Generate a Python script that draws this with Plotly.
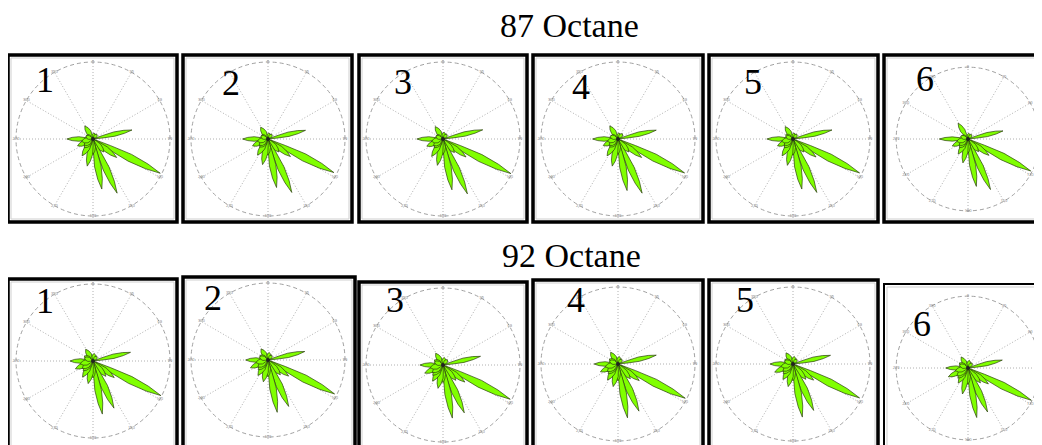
import math
import plotly.graph_objects as go

# screen geometry: the page body has an 8px margin, so the figure sits at (8, 8)
SCREEN_W, SCREEN_H = 1042, 445
OFF = 8
W, H = SCREEN_W - OFF, SCREEN_H - OFF
R_PX = 77          # outer circle radius in pixels
R_MAX = 1.03       # radial range (circle gridline drawn at r = 1)

titles = ["87 Octane", "92 Octane"]
panel_labels = ["1", "2", "3", "4", "5", "6"]
angle_ticks = [0, 30, 60, 90, 120, 150, 180, 210, 240, 270, 300, 330]
angle_tick_text = ["0", "30", "60", "90", "120", "150", "180", "210", "240", "270", "300", "330"]

# petal directions (compass degrees, clockwise from north)
directions = [77, 117, 128, 140, 156, 170, 180, 192, 213, 246, 270, 328, 10, 40, 300,
              225, 235, 258, 290]
# petal half-widths (pixels)
petal_widths = [2.2, 3.8, 2.6, 2.6, 3.3, 3.3, 2.6, 2.9, 2.8, 2.8, 2.3, 2.6, 2.4, 2.4, 2.6,
                3.0, 3.0, 3.0, 2.6]

# petal lengths (fraction of outer circle) per panel, 87 octane row
lengths_87 = [
    [0.52, 0.98, 0.39, 0.22, 0.77, 0.66, 0.20, 0.36, 0.26, 0.22, 0.34, 0.20, 0.08, 0.08, 0.10, 0.16, 0.14, 0.15, 0.10],
    [0.50, 0.96, 0.37, 0.22, 0.76, 0.64, 0.21, 0.34, 0.25, 0.22, 0.33, 0.18, 0.08, 0.08, 0.10, 0.15, 0.14, 0.14, 0.10],
    [0.53, 0.99, 0.38, 0.23, 0.78, 0.67, 0.20, 0.35, 0.27, 0.23, 0.34, 0.19, 0.09, 0.08, 0.10, 0.16, 0.15, 0.15, 0.10],
    [0.51, 0.97, 0.39, 0.22, 0.77, 0.68, 0.20, 0.36, 0.26, 0.21, 0.33, 0.20, 0.08, 0.09, 0.10, 0.15, 0.14, 0.14, 0.11],
    [0.52, 0.97, 0.38, 0.22, 0.76, 0.66, 0.21, 0.35, 0.26, 0.22, 0.34, 0.19, 0.08, 0.08, 0.11, 0.16, 0.14, 0.15, 0.10],
    [0.50, 0.98, 0.37, 0.23, 0.77, 0.67, 0.20, 0.34, 0.25, 0.24, 0.40, 0.26, 0.08, 0.08, 0.10, 0.17, 0.15, 0.16, 0.11],
]
# petal lengths per panel, 92 octane row
lengths_92 = [
    [0.50, 0.99, 0.35, 0.26, 0.67, 0.70, 0.22, 0.30, 0.25, 0.25, 0.30, 0.18, 0.10, 0.08, 0.13, 0.18, 0.17, 0.17, 0.12],
    [0.49, 0.97, 0.34, 0.25, 0.66, 0.69, 0.22, 0.29, 0.24, 0.25, 0.29, 0.17, 0.10, 0.08, 0.12, 0.18, 0.16, 0.16, 0.12],
    [0.50, 0.98, 0.36, 0.26, 0.68, 0.70, 0.23, 0.31, 0.25, 0.26, 0.30, 0.18, 0.10, 0.09, 0.13, 0.19, 0.17, 0.17, 0.12],
    [0.51, 0.98, 0.35, 0.25, 0.67, 0.71, 0.22, 0.30, 0.25, 0.25, 0.31, 0.18, 0.10, 0.08, 0.13, 0.18, 0.17, 0.17, 0.12],
    [0.50, 0.97, 0.34, 0.26, 0.66, 0.70, 0.22, 0.30, 0.24, 0.26, 0.30, 0.17, 0.10, 0.08, 0.12, 0.18, 0.16, 0.16, 0.12],
    [0.49, 0.99, 0.36, 0.27, 0.67, 0.70, 0.23, 0.37, 0.25, 0.30, 0.31, 0.18, 0.11, 0.09, 0.14, 0.20, 0.19, 0.18, 0.13],
]

# layout geometry (screen pixels)
box_left = [8, 183, 359, 533, 709, 884]
box_right_top = [177, 352, 527, 703, 878, 1050]
box_right_bot = [177, 355, 527, 703, 878, 1050]
box_top_top = 55
box_bot_top = 222
box_top_bot = [279, 277, 282, 280, 280, 284]
circle_cx = [93, 268, 443, 618, 793, 968]
circle_cy_top = 139
circle_cy_bot = [361, 360, 365, 364, 364, 368]
label_pos_top = [(45, 80), (231, 83), (403, 82), (581, 87), (753, 82), (925, 79)]
label_pos_bot = [(45, 301), (213, 298), (395, 300), (576, 300), (745, 300), (922, 324)]


def px(x):
    return (x - OFF) / W


def py(y):
    return 1 - (y - OFF) / H


def clamp(v):
    return max(0.0, min(1.0, v))


def petal(theta, r, hw):
    rr = [0, 0.25 * r, 0.55 * r, 0.8 * r, r, 0.8 * r, 0.55 * r, 0.25 * r, 0]
    prof = [0, 0.55, 1.0, 0.7, 0, -0.7, -1.0, -0.55, 0]
    th = []
    for ri, p in zip(rr, prof):
        if ri == 0:
            th.append(theta)
        else:
            d = math.degrees(math.atan(hw * abs(p) / (ri * R_PX)))
            d = min(d, 25)
            th.append(theta + (d if p > 0 else -d))
    return rr, th


fig = go.Figure()
shapes = []
annotations = []

rows = [
    (lengths_87, box_right_top, [box_top_top] * 6, [circle_cy_top] * 6, label_pos_top),
    (lengths_92, box_right_bot, box_top_bot, circle_cy_bot, label_pos_bot),
]

idx = 0
for row_i, (lengths, rights, tops, cys, lpos) in enumerate(rows):
    for j in range(6):
        idx += 1
        pname = "polar" if idx == 1 else f"polar{idx}"
        l, r = box_left[j], rights[j]
        t = tops[j]
        b = box_bot_top if row_i == 0 else 452
        cx = circle_cx[j]
        cy = cys[j]
        rad = R_PX * R_MAX
        rad = min(rad, SCREEN_W - cx)
        # inner light frame
        shapes.append(dict(type="rect", xref="paper", yref="paper",
                           x0=clamp(px(l + 3)), x1=clamp(px(r - 3)),
                           y0=py(b - 3), y1=py(t + 3),
                           line=dict(color="#cfcfcf", width=1), layer="below"))
        # outer black frame
        bw = 2.0 if (row_i == 1 and j == 5) else 3.5
        shapes.append(dict(type="rect", xref="paper", yref="paper",
                           x0=px(l), x1=px(r), y0=py(b), y1=py(t),
                           line=dict(color="black", width=bw), layer="above"))
        fig.update_layout(**{pname: dict(
            domain=dict(x=[clamp(px(cx - rad)), clamp(px(cx + rad))],
                        y=[clamp(py(cy + rad)), clamp(py(cy - rad))]),
            bgcolor="white",
            radialaxis=dict(range=[0, R_MAX], tickvals=[1], showticklabels=False,
                            showline=False, ticks="", gridcolor="#a0a0a0",
                            griddash="4px,3px", gridwidth=1),
            angularaxis=dict(direction="clockwise", rotation=90,
                             tickvals=angle_ticks, showticklabels=False, ticks="",
                             showline=False, gridcolor="#b0b0b0", griddash="1px,2px",
                             gridwidth=1),
        )})
        # small angle labels sitting on the outer circle
        fig.add_trace(go.Scatterpolar(
            r=[1] * len(angle_ticks), theta=angle_ticks, text=angle_tick_text,
            mode="text", textfont=dict(size=4, color="#808080"),
            subplot=pname, showlegend=False, hoverinfo="skip"))
        for d, ln, hw in zip(directions, lengths[j], petal_widths):
            rr, th = petal(d, ln, hw)
            fig.add_trace(go.Scatterpolar(
                r=rr, theta=th, mode="lines", fill="toself",
                fillcolor="#80ff00", line=dict(color="#2b3d10", width=0.7),
                subplot=pname, showlegend=False, hoverinfo="skip"))
        fig.add_trace(go.Scatterpolar(
            r=[0], theta=[0], mode="markers",
            marker=dict(size=4, color="#222"), subplot=pname,
            showlegend=False, hoverinfo="skip"))
        lx, ly = lpos[j]
        annotations.append(dict(text=panel_labels[j], x=px(lx), y=py(ly),
                                xref="paper", yref="paper", showarrow=False,
                                xanchor="center", yanchor="middle",
                                font=dict(family="Liberation Serif", size=36, color="black")))

annotations.append(dict(text=titles[0], x=px(569), y=py(26), xref="paper", yref="paper",
                        showarrow=False, xanchor="center", yanchor="middle",
                        font=dict(family="Liberation Serif", size=34, color="black")))
annotations.append(dict(text=titles[1], x=px(571), y=py(256), xref="paper", yref="paper",
                        showarrow=False, xanchor="center", yanchor="middle",
                        font=dict(family="Liberation Serif", size=34, color="black")))

fig.update_layout(width=W, height=H, margin=dict(l=0, r=0, t=0, b=0),
                  paper_bgcolor="white", plot_bgcolor="white",
                  shapes=shapes, annotations=annotations, showlegend=False)

fig.write_html("out.html", include_plotlyjs=True, config={"displayModeBar": False})
